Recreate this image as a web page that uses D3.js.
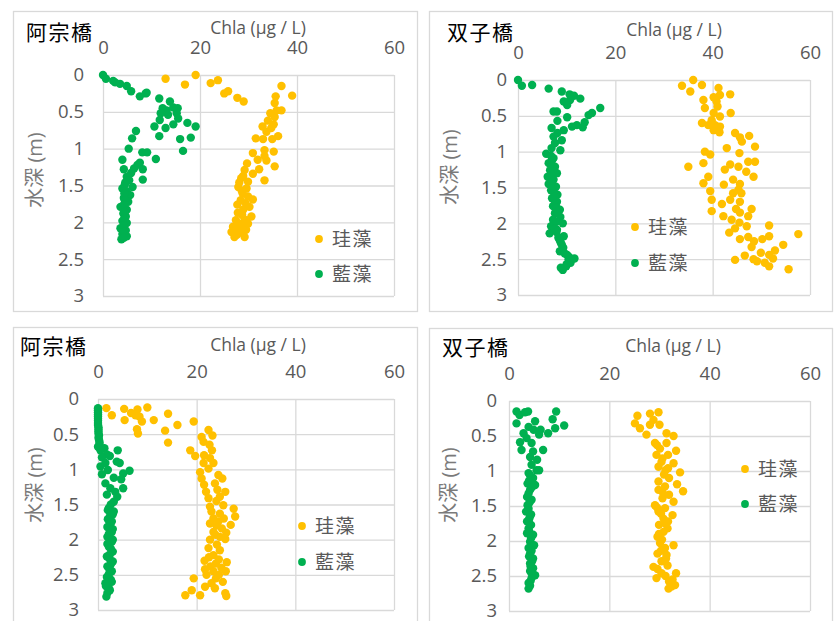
<!DOCTYPE html>
<html>
<head>
<meta charset="utf-8">
<script src="https://cdn.jsdelivr.net/npm/d3@7"></script>
<style>
  body { margin: 0; background: #fff; }
  text { font-family: "Open Sans", "Noto Sans CJK JP", sans-serif; }
</style>
</head>
<body>
<script>
// tick values and labels
var xTicks = [0, 20, 40, 60];
var yTicks = [0, 0.5, 1, 1.5, 2, 2.5, 3];
var seriesNames = ["珪藻", "藍藻"];
var seriesColors = ["#FFC000", "#00B050"];
var stationNames = ["阿宗橋", "双子橋", "阿宗橋", "双子橋"];
var xTitle = "Chla (µg / L)";
var yTitle = "水深 (m)";

// [Chla, depth] pairs
var asoTopDiatom = [[12.9,0.05],[16.9,0.13],[19.1,0.0],[22.2,0.11],[23.7,0.07],[25.0,0.25],[25.8,0.22],[27.7,0.31],[29.0,0.36],
  [36.8,0.15],[39.0,0.28],[35.6,0.29],[35.4,0.38],[35.8,0.48],[36.8,0.48],[34.5,0.52],[35.4,0.57],[34.0,0.62],[35.2,0.67],
  [32.9,0.70],[34.7,0.72],[33.7,0.77],[36.1,0.83],[31.5,0.86],[33.0,0.87],[34.9,0.87],[33.3,1.02],[35.2,1.04],[30.9,1.06],
  [33.3,1.10],[31.9,1.15],[33.7,1.16],[29.7,1.20],[35.4,1.24],[32.2,1.28],[29.2,1.29],[30.9,1.34],[33.3,1.43],[28.9,1.37],
  [29.9,1.45],[28.1,1.46],[27.9,1.52],[29.6,1.54],[28.8,1.61],[29.9,1.65],[30.9,1.69],[28.4,1.70],[27.7,1.76],[30.2,1.79],
  [28.9,1.83],[27.8,1.87],[30.6,1.92],[29.6,1.97],[27.4,1.97],[28.8,2.01],[29.9,2.02],[26.8,2.06],[28.1,2.08],[29.5,2.10],
  [26.5,2.13],[27.6,2.17],[29.2,2.20],[27.1,2.20],[28.5,1.40],[28.6,1.57],[29.4,1.74],[28.7,1.90],[28.2,2.04],[27.6,2.11],[28.4,2.14]];
var asoTopCyano = [[0,0],[0.6,0.05],[2.1,0.08],[2.5,0.10],[3.5,0.12],[4.9,0.15],[5.8,0.22],[7.6,0.29],[8.8,0.25],[9.0,0.24],
  [11.6,0.32],[13.8,0.36],[12.3,0.45],[13.1,0.48],[14.5,0.44],[15.4,0.45],[15.2,0.52],[13.4,0.54],[11.9,0.52],[15.5,0.59],
  [11.7,0.61],[14.5,0.67],[12.9,0.72],[10.6,0.70],[17.4,0.65],[19.1,0.70],[11.6,0.83],[15.9,0.87],[18.1,0.85],[6.8,0.76],
  [6.0,0.86],[16.5,1.03],[5.3,1.00],[8.1,1.05],[9.1,1.05],[10.9,1.14],[4.0,1.15],[7.6,1.19],[7.1,1.22],[6.4,1.27],[8.2,1.28],
  [4.3,1.28],[5.8,1.33],[4.9,1.38],[5.4,1.43],[8.2,1.42],[4.5,1.49],[6.1,1.52],[4.0,1.54],[4.9,1.58],[5.6,1.63],[4.3,1.67],
  [5.2,1.72],[3.6,1.79],[4.9,1.83],[4.2,1.88],[4.7,1.92],[4.0,1.98],[4.9,2.01],[3.6,2.08],[4.7,2.11],[4.0,2.16],[4.9,2.19],[3.8,2.23],
  [4.6,1.46],[4.4,1.61],[4.5,1.70],[4.3,1.76],[4.5,1.86],[4.4,1.95],[4.3,2.04],[4.3,2.13],[4.3,2.21]];

var futaTopDiatom = [[36.0,0.0],[33.7,0.08],[35.4,0.16],[37.8,0.07],[41.2,0.11],[41.5,0.21],[43.6,0.20],[40.2,0.24],[38.1,0.28],
  [38.4,0.39],[40.8,0.30],[41.0,0.37],[43.7,0.46],[40.2,0.46],[41.5,0.51],[39.8,0.56],[37.8,0.60],[39.1,0.63],[40.5,0.63],
  [41.5,0.65],[40.2,0.70],[41.4,0.73],[44.6,0.74],[45.6,0.80],[47.5,0.78],[46.0,0.86],[42.9,0.95],[48.7,0.93],[38.4,1.00],
  [39.5,1.04],[45.5,1.02],[38.1,1.16],[35.0,1.21],[47.3,1.14],[48.7,1.14],[43.6,1.18],[45.3,1.21],[42.5,1.25],[46.9,1.28],
  [39.1,1.35],[48.4,1.35],[44.2,1.39],[38.1,1.44],[42.3,1.46],[45.6,1.45],[45.3,1.53],[39.5,1.55],[44.2,1.58],[45.9,1.58],
  [39.8,1.67],[43.6,1.67],[41.9,1.73],[45.6,1.70],[44.8,1.80],[48.0,1.80],[39.8,1.83],[45.6,1.85],[47.3,1.90],[42.2,1.90],
  [43.9,1.95],[45.5,1.99],[51.6,2.03],[47.0,2.04],[44.6,2.07],[43.4,2.13],[45.6,2.22],[57.6,2.15],[51.6,2.18],[47.3,2.19],
  [50.2,2.22],[48.5,2.25],[54.5,2.30],[48.0,2.33],[52.8,2.38],[49.9,2.41],[51.6,2.44],[46.6,2.45],[44.6,2.51],[48.4,2.50],
  [52.4,2.49],[50.7,2.55],[51.6,2.60],[55.6,2.64],[49.1,2.53]];
var futaTopCyano = [[0,0],[0.8,0.08],[2.9,0.07],[6.3,0.12],[9.0,0.16],[10.6,0.20],[11.5,0.22],[12.8,0.26],[10.7,0.28],[9.4,0.30],
  [10.1,0.35],[16.9,0.39],[15.2,0.46],[14.5,0.49],[7.3,0.44],[8.0,0.44],[10.1,0.52],[8.1,0.57],[13.7,0.59],[12.1,0.63],
  [13.3,0.66],[11.1,0.65],[9.4,0.70],[6.9,0.67],[8.1,0.74],[7.3,0.79],[9.0,0.84],[7.6,0.88],[6.9,0.95],[8.7,0.98],[5.8,1.03],
  [7.3,1.09],[6.3,1.16],[7.6,1.21],[6.6,1.26],[8.0,1.30],[6.1,1.35],[7.3,1.39],[6.3,1.45],[7.8,1.49],[6.8,1.54],[8.1,1.60],
  [7.0,1.65],[8.0,1.70],[7.2,1.76],[8.6,1.81],[7.6,1.86],[8.7,1.91],[7.2,1.95],[9.2,2.00],[6.8,2.04],[8.0,2.09],[6.5,2.14],
  [9.4,2.18],[8.6,2.24],[9.0,2.30],[8.6,2.39],[10.1,2.44],[11.6,2.49],[10.8,2.55],[9.9,2.60],[9.2,2.65],[10.4,2.50],
  [6.8,1.06],[7.0,1.12],[6.9,1.19],[7.2,1.24],[6.9,1.32],[7.0,1.42],[7.1,1.52],[7.4,1.57],[7.5,1.63],[7.6,1.73],[7.9,1.78],
  [8.0,1.84],[7.9,1.98],[7.5,2.07],[7.9,2.12],[8.3,2.20],[8.8,2.27],[9.3,2.34],[9.6,2.42],[10.5,2.47],[10.0,2.57],[8.8,2.62]];

var asoBotDiatom = [[1.7,0.13],[2.8,0.23],[5.3,0.14],[5.4,0.30],[6.7,0.20],[8.0,0.15],[7.6,0.23],[8.4,0.25],[8.9,0.32],[10.0,0.12],
  [11.3,0.30],[7.9,0.43],[8.1,0.49],[14.2,0.21],[16.1,0.37],[13.6,0.45],[14.2,0.62],[19.4,0.32],[18.7,0.73],[19.7,0.81],
  [22.4,0.44],[23.2,0.52],[21.0,0.54],[21.4,0.61],[22.6,0.65],[23.1,0.73],[21.5,0.80],[22.7,0.84],[21.4,0.91],[23.4,0.91],
  [22.4,0.99],[20.7,1.04],[24.4,1.08],[25.2,1.13],[21.0,1.13],[23.7,1.20],[21.5,1.22],[25.8,1.32],[21.9,1.32],[24.2,1.29],
  [24.7,1.39],[22.4,1.41],[25.4,1.51],[22.7,1.53],[27.5,1.56],[27.8,1.67],[24.7,1.63],[23.4,1.70],[24.4,1.74],[26.9,1.79],
  [22.7,1.77],[25.1,1.84],[23.4,1.89],[24.7,1.96],[25.8,1.99],[22.7,2.00],[24.1,2.07],[22.4,2.12],[24.7,2.15],[23.4,2.22],
  [26.1,2.32],[21.6,2.30],[23.9,2.34],[21.7,2.42],[23.4,2.45],[25.9,2.45],[19.4,2.55],[23.9,2.55],[25.3,2.60],[23.0,2.62],
  [21.7,2.67],[19.0,2.72],[23.7,2.69],[17.7,2.79],[20.7,2.79],[25.8,2.76],[26.0,2.80],
  [24.0,1.45],[23.0,1.60],[25.5,1.70],[24.0,1.80],[26.0,1.90],[23.8,1.93],[22.5,2.25],[24.5,2.28],[22.8,2.38],[25.0,2.40],
  [24.5,2.50],[22.0,2.50]];
var asoBotCyano = [[0,0.13],[0,0.19],[0,0.25],[0,0.31],[0,0.37],[0.1,0.43],[0.1,0.49],[0.1,0.55],[0.3,0.61],[0,0.68],[0.5,0.73],
  [1.3,0.70],[4.0,0.73],[1.8,0.79],[0.8,0.83],[2.4,0.81],[3.8,0.89],[4.4,0.91],[0.5,0.96],[1.5,0.91],[6.4,1.02],[5.1,1.06],
  [2.0,1.01],[0.8,1.07],[3.2,1.12],[4.7,1.14],[1.5,1.20],[5.1,1.27],[2.5,1.27],[3.5,1.32],[1.8,1.36],[3.9,1.39],[3.2,1.46],
  [2.2,1.55],[3.2,1.60],[2.4,1.67],[2.8,1.74],[1.9,1.82],[2.8,1.89],[1.9,1.96],[2.8,2.03],[2.2,2.10],[3.0,2.17],[1.8,2.24],
  [3.0,2.31],[1.9,2.38],[2.8,2.45],[1.8,2.53],[2.6,2.57],[1.5,2.62],[2.2,2.69],[1.9,2.76],[1.7,2.81],
  [0,0.16],[0,0.22],[0,0.28],[0,0.34],[0.1,0.40],[0.1,0.46],[0.2,0.52],[0.2,0.58],[0.3,0.64],[2.6,1.50],[2.0,1.58],[3.0,1.64],
  [2.0,1.71],[2.5,1.78],[3.0,1.85],[2.2,1.92],[3.0,2.00],[1.9,2.06],[2.6,2.13],[2.4,2.21],[2.4,2.28],[2.6,2.35],[2.3,2.42],
  [2.2,2.49],[2.8,2.60],[2.4,2.72],[1.6,2.66]];

var futaBotDiatom = [[25.6,0.21],[25.1,0.32],[26.1,0.39],[27.4,0.48],[28.1,0.18],[29.8,0.16],[28.8,0.27],[30.0,0.34],[28.1,0.34],
  [31.4,0.46],[32.8,0.50],[29.1,0.60],[31.4,0.60],[30.1,0.68],[33.3,0.71],[31.7,0.77],[29.4,0.77],[30.4,0.87],[32.8,0.89],
  [29.8,0.94],[31.7,0.96],[34.1,1.02],[30.9,1.05],[31.9,1.10],[29.8,1.15],[33.5,1.19],[31.1,1.22],[34.7,1.29],[29.8,1.27],
  [31.9,1.34],[30.6,1.39],[32.8,1.44],[29.1,1.49],[31.1,1.53],[29.8,1.58],[32.6,1.63],[30.8,1.68],[31.7,1.72],[29.9,1.77],
  [31.6,1.82],[30.8,1.87],[29.6,1.94],[32.8,2.06],[30.1,2.03],[31.1,2.10],[29.6,2.18],[31.4,2.20],[30.4,2.29],[28.8,2.37],
  [31.6,2.35],[29.4,2.53],[30.4,2.46],[33.3,2.46],[31.9,2.58],[33.1,2.63],[31.8,2.68],
  [29.5,0.63],[30.6,0.82],[31.2,0.99],[30.6,1.30],[29.5,1.52],[30.3,1.61],[31.2,1.75],[29.9,1.90],[30.5,1.98],[30.3,2.14],
  [31.3,2.25],[29.6,2.40],[31.2,2.50],[32.6,2.55],[32.4,2.65]];
var futaBotCyano = [[1.5,0.15],[2.1,0.20],[3.2,0.16],[3.8,0.15],[9.4,0.15],[1.5,0.32],[5.2,0.29],[3.9,0.37],[4.9,0.41],[6.3,0.41],
  [7.8,0.46],[8.7,0.26],[9.2,0.39],[11.0,0.35],[6.0,0.48],[2.9,0.46],[3.5,0.53],[2.2,0.59],[4.5,0.60],[2.5,0.70],[6.8,0.70],
  [4.8,0.72],[4.2,0.80],[5.6,0.84],[4.5,0.91],[5.5,0.99],[6.0,0.99],[3.9,1.03],[4.8,1.10],[3.7,1.18],[5.2,1.20],[4.2,1.27],
  [3.6,1.37],[4.5,1.41],[3.7,1.49],[3.4,1.58],[4.2,1.65],[3.6,1.72],[3.9,1.82],[3.6,1.89],[4.8,1.91],[4.2,2.01],[5.0,2.06],
  [3.9,2.10],[4.2,2.18],[4.8,2.25],[4.2,2.32],[4.8,2.39],[4.5,2.46],[5.2,2.49],[4.5,2.53],[3.9,2.60],[3.9,2.68],
  [4.2,1.06],[4.0,1.14],[4.6,1.23],[3.9,1.32],[4.1,1.45],[3.9,1.54],[4.4,1.62],[4.0,1.69],[4.4,1.77],[4.0,1.86],[4.4,1.96],
  [4.5,2.14],[4.0,2.22],[4.6,2.29],[4.3,2.36],[4.2,2.43],[4.3,2.57],[4.2,2.64]];

// panel layout
var panels = [
  {name: stationNames[0], series: [asoTopDiatom, asoTopCyano], box: [13, 11, 404, 300], plot: [103, 75, 394, 296],
   yPad: 19, chla: [258, 28], ytitle: [35, 170], titleAt: [26, 33], legend: [319, 239, 274]},
  {name: stationNames[1], series: [futaTopDiatom, futaTopCyano], box: [429, 11, 403, 300], plot: [518, 80, 810, 295],
   yPad: 11, chla: [674, 30], ytitle: [450, 167], titleAt: [447, 33], legend: [635, 227, 263]},
  {name: stationNames[2], series: [asoBotDiatom, asoBotCyano], box: [13, 327, 404, 310], plot: [98, 399, 394, 610],
   yPad: 19, chla: [258, 345], ytitle: [35, 485], titleAt: [20, 347], legend: [302, 526, 562]},
  {name: stationNames[3], series: [futaBotDiatom, futaBotCyano], box: [429, 328, 403, 310], plot: [509, 401, 810, 611],
   yPad: 12, chla: [673, 346], ytitle: [449, 485], titleAt: [442, 348], legend: [745, 469, 504]}
];

var svg = d3.select("body").append("svg")
    .attr("width", 838)
    .attr("height", 621);

panels.forEach(function(p) {
  var g = svg.append("g");

  // outer frame
  g.append("rect")
    .attr("x", p.box[0] + 0.5).attr("y", p.box[1] + 0.5)
    .attr("width", p.box[2]).attr("height", p.box[3])
    .attr("fill", "#fff")
    .attr("stroke", "#d9d9d9")
    .attr("stroke-width", 1.3);

  var x = d3.scaleLinear().domain([0, 60]).range([p.plot[0], p.plot[2]]);
  var y = d3.scaleLinear().domain([0, 3]).range([p.plot[1], p.plot[3]]);
  var w = p.plot[2] - p.plot[0], h = p.plot[3] - p.plot[1];

  // gridlines
  g.append("g")
    .attr("transform", "translate(0," + p.plot[1] + ")")
    .call(d3.axisTop(x).tickValues(xTicks).tickSize(-h).tickFormat(""))
    .call(function(a) { a.select(".domain").remove(); })
    .selectAll("line").attr("stroke", "#d9d9d9").attr("stroke-width", 1.3);
  g.append("g")
    .attr("transform", "translate(" + p.plot[0] + ",0)")
    .call(d3.axisLeft(y).tickValues(yTicks).tickSize(-w).tickFormat(""))
    .call(function(a) { a.select(".domain").remove(); })
    .selectAll("line").attr("stroke", "#d9d9d9").attr("stroke-width", 1.3);

  // tick labels
  var xa = g.append("g")
    .attr("transform", "translate(0," + p.plot[1] + ")")
    .call(d3.axisTop(x).tickValues(xTicks).tickSize(0).tickPadding(21).tickFormat(d3.format("d")));
  var ya = g.append("g")
    .attr("transform", "translate(" + p.plot[0] + ",0)")
    .call(d3.axisLeft(y).tickValues(yTicks).tickSize(0).tickPadding(p.yPad).tickFormat(function(d) { return String(d); }));
  [xa, ya].forEach(function(a) {
    a.select(".domain").remove();
    a.selectAll("text").attr("fill", "#595959").style("font-size", "18.5px");
  });

  // axis titles
  g.append("text")
    .attr("x", p.chla[0]).attr("y", p.chla[1])
    .attr("dy", "0.35em")
    .attr("text-anchor", "middle")
    .attr("fill", "#595959")
    .style("font-size", "17.5px")
    .text(xTitle);
  g.append("text")
    .attr("transform", "translate(" + p.ytitle[0] + "," + p.ytitle[1] + ") rotate(-90)")
    .attr("dy", "0.35em")
    .attr("text-anchor", "middle")
    .attr("fill", "#7a7a7a")
    .style("font-size", "20px")
    .text(yTitle);

  // station name
  g.append("text")
    .attr("x", p.titleAt[0]).attr("y", p.titleAt[1])
    .attr("dy", "0.35em")
    .attr("fill", "#000")
    .style("font-size", "21px")
    .style("letter-spacing", "1.5px")
    .text(p.name);

  // points
  p.series.forEach(function(data, i) {
    g.append("g").selectAll("circle")
      .data(data)
      .join("circle")
        .attr("cx", function(d) { return x(d[0]); })
        .attr("cy", function(d) { return y(d[1]); })
        .attr("r", 4.2)
        .attr("fill", seriesColors[i]);
  });

  // legend
  seriesNames.forEach(function(n, i) {
    var ly = p.legend[1 + i];
    g.append("circle")
      .attr("cx", p.legend[0]).attr("cy", ly)
      .attr("r", 3.9)
      .attr("fill", seriesColors[i]);
    g.append("text")
      .attr("x", p.legend[0] + 13).attr("y", ly)
      .attr("dy", "0.35em")
      .attr("fill", "#595959")
      .style("font-size", "19px")
      .style("letter-spacing", "1.5px")
      .text(n);
  });
});
</script>
</body>
</html>
